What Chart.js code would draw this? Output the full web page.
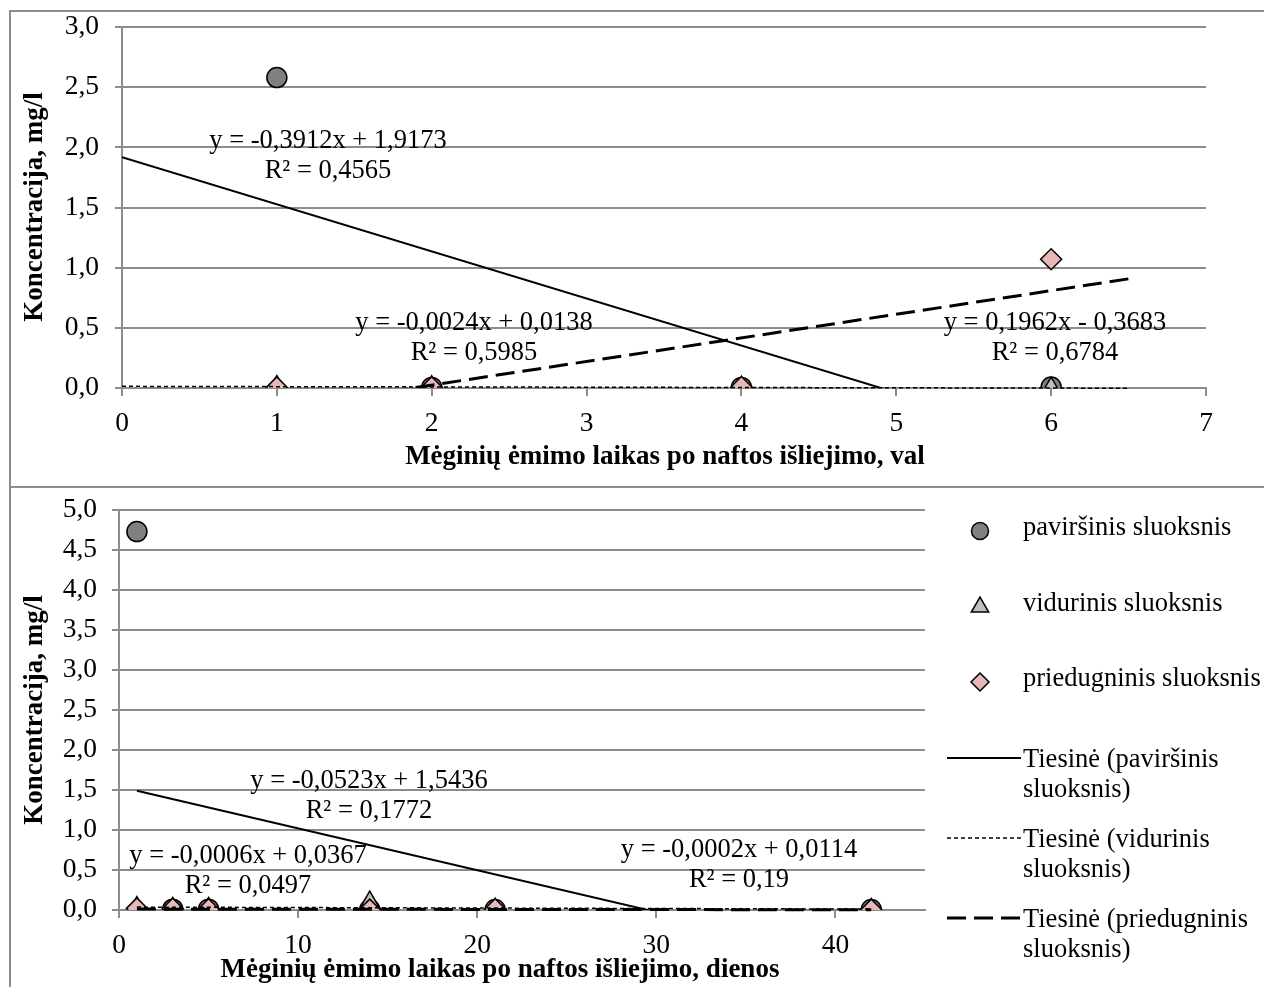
<!DOCTYPE html>
<html><head><meta charset="utf-8">
<script src="https://cdn.jsdelivr.net/npm/chart.js@4.4.1/dist/chart.umd.min.js"></script>
<style>
html,body{margin:0;padding:0;background:#fff;overflow:hidden;width:1264px;height:987px;}
#wrap{position:relative;width:1264px;height:987px;overflow:hidden;}
.frame{position:absolute;border:2px solid #8c8c8c;box-sizing:border-box;}
canvas{position:absolute;left:0;}
</style></head><body>
<div id="wrap">
<div class="frame" style="left:9px;top:10px;width:1270px;height:478px;"></div>
<div class="frame" style="left:9px;top:486px;width:1270px;height:520px;"></div>
<canvas id="c1" width="1264" height="487" style="top:0"></canvas>
<canvas id="c2" width="1264" height="500" style="top:487px"></canvas>
</div>
<script>
// ---------- DATA ----------
const seriesNames = ['paviršinis sluoksnis', 'vidurinis sluoksnis', 'priedugninis sluoksnis'];
const trendNames = [['Tiesinė (paviršinis', 'sluoksnis)'], ['Tiesinė (vidurinis', 'sluoksnis)'], ['Tiesinė (priedugninis', 'sluoksnis)']];

// Top chart: hours
const hoursX = [1, 2, 4, 6];
const hoursSurface = [2.58, 0.005, 0.005, 0.008];
const hoursMiddle = [0.012, 0.01, 0.006, 0.0];
const hoursBottom = [0.005, 0.006, 0.008, 1.07];
const hoursTrendSurface = [[0, 1.9173], [6.5, -0.6255]];
const hoursTrendMiddle = [[0, 0.0138], [6.5, -0.0018]];
const hoursTrendBottom = [[0, -0.3683], [6.5, 0.907]];
const hoursEquations = [['y = -0,3912x + 1,9173', 'R² = 0,4565'], ['y = -0,0024x + 0,0138', 'R² = 0,5985'], ['y = 0,1962x - 0,3683', 'R² = 0,6784']];
const hoursXMax = 7;
const hoursYMax = 3.0;
const hoursTitleX = 'Mėginių ėmimo laikas po naftos išliejimo, val';

// Bottom chart: days
const daysX = [1, 3, 5, 14, 21, 42];
const daysSurface = [4.73, 0.01, 0.01, 0.005, 0.005, 0.005];
const daysMiddle = [0.03, 0.02, 0.02, 0.1, 0.01, 0.005];
const daysBottom = [0.02, 0.015, 0.01, 0.005, 0.01, 0.003];
const daysTrendSurface = [[1, 1.4913], [42, -0.6530]];
const daysTrendMiddle = [[1, 0.0361], [42, 0.0115]];
const daysTrendBottom = [[1, 0.0112], [42, 0.0030]];
const daysEquations = [['y = -0,0523x + 1,5436', 'R² = 0,1772'], ['y = -0,0006x + 0,0367', 'R² = 0,0497'], ['y = -0,0002x + 0,0114', 'R² = 0,19']];
const daysXMax = 45;
const daysYMax = 5.0;
const daysTitleX = 'Mėginių ėmimo laikas po naftos išliejimo, dienos';

const titleY = 'Koncentracija, mg/l';

// ---------- STYLE ----------
const FONT = '"Liberation Serif", "Times New Roman", serif';
const GRID = '#8c8c8c';
const FS = 26.5;
const TICK_FS = 27.5;
const markerStyles = [
  {pointStyle: 'circle', radius: 10, fill: '#808080'},
  {pointStyle: 'triangle', radius: 11, fill: '#bfbfbf'},
  {pointStyle: 'rectRot', radius: 10.5, fill: '#e6b9b8'}
];
const trendStyles = [
  {width: 2, dash: []},
  {width: 1.5, dash: [4, 3]},
  {width: 3, dash: [19, 8]}
];
const trendClips = [0, {left: 0, top: 0, right: 0, bottom: 3}, {left: 0, top: 0, right: 0, bottom: 3}];

function pts(xs, ys) { return xs.map((x, i) => ({x: x, y: ys[i]})); }
function seg(p) { return p.map(a => ({x: a[0], y: a[1]})); }

function datasets(xs, s, m, b, ts, tm, tb, clips) {
  const ser = [s, m, b].map((ys, i) => ({
    label: seriesNames[i], data: pts(xs, ys), showLine: false,
    pointStyle: markerStyles[i].pointStyle, pointRadius: markerStyles[i].radius,
    pointHoverRadius: markerStyles[i].radius,
    backgroundColor: markerStyles[i].fill, borderColor: '#000', pointBorderWidth: 1.5,
    order: 3 - i
  }));
  const tr = [ts, tm, tb].map((p, i) => ({
    label: trendNames[i].join(' '), data: seg(p), showLine: true, pointRadius: 0, pointHoverRadius: 0,
    borderColor: '#000', borderWidth: trendStyles[i].width, borderDash: trendStyles[i].dash,
    fill: false, order: 0, clip: clips[i]
  }));
  return ser.concat(tr);
}

function yScale(max, width, pad) {
  return {
    type: 'linear', min: 0, max: max,
    ticks: {stepSize: 0.5, color: '#000', padding: pad, font: {family: FONT, size: TICK_FS, lineHeight: 0.5},
      callback: v => v.toFixed(1).replace('.', ',')},
    grid: {color: GRID, lineWidth: 2, tickLength: 7, drawTicks: true},
    border: {display: true, color: GRID, width: 2},
    afterFit: s => { s.width = width; }
  };
}
function xScale(max, step, height, pad) {
  return {
    type: 'linear', min: 0, max: max,
    ticks: {stepSize: step, includeBounds: false, autoSkip: false, maxRotation: 0, color: '#000',
      padding: pad, font: {family: FONT, size: TICK_FS}, callback: v => String(v)},
    grid: {drawOnChartArea: false, color: GRID, lineWidth: 2, tickLength: 8, drawTicks: true},
    border: {display: true, color: GRID, width: 2},
    afterFit: s => { s.height = height; }
  };
}

function textPlugin(id, items, legend) {
  return {
    id: id,
    afterDraw(chart) {
      const ctx = chart.ctx;
      ctx.save();
      ctx.fillStyle = '#000';
      items.forEach(t => {
        ctx.font = (t.bold ? 'bold ' : '') + t.size + 'px ' + FONT;
        ctx.textAlign = t.align || 'center';
        ctx.textBaseline = 'alphabetic';
        if (t.rot) {
          ctx.save(); ctx.translate(t.x, t.y); ctx.rotate(-Math.PI / 2);
          ctx.fillText(t.text, 0, 0); ctx.restore();
        } else ctx.fillText(t.text, t.x, t.y);
      });
      if (legend) {
        const L = legend;
        markerStyles.forEach((m, i) => {
          const y = L.markerY[i];
          ctx.fillStyle = m.fill; ctx.strokeStyle = '#000'; ctx.lineWidth = 1.5;
          Chart.helpers.drawPoint(ctx, {pointStyle: m.pointStyle, radius: L.markerR[i], rotation: 0, borderWidth: 1.5}, L.markerX, y);
          ctx.fillStyle = '#000';
          ctx.font = FS + 'px ' + FONT; ctx.textAlign = 'left'; ctx.textBaseline = 'alphabetic';
          ctx.fillText(seriesNames[i], L.textX, y + L.textDy);
        });
        trendStyles.forEach((s, i) => {
          const y = L.lineY[i];
          ctx.strokeStyle = '#000'; ctx.lineWidth = s.width; ctx.setLineDash(s.dash);
          ctx.beginPath(); ctx.moveTo(L.lineX0, y); ctx.lineTo(L.lineX1, y); ctx.stroke();
          ctx.setLineDash([]);
          ctx.fillStyle = '#000';
          ctx.font = FS + 'px ' + FONT; ctx.textAlign = 'left'; ctx.textBaseline = 'alphabetic';
          ctx.fillText(trendNames[i][0], L.textX, y + L.lineTextDy);
          ctx.fillText(trendNames[i][1], L.textX, y + L.lineTextDy + 30);
        });
      }
      ctx.restore();
    }
  };
}

const common = {
  responsive: false, animation: false, devicePixelRatio: 1,
  plugins: {legend: {display: false}, tooltip: {enabled: false}}
};

// ---------- TOP CHART ----------
const topItems = [
  {text: hoursTitleX, x: 665, y: 464, size: 27, bold: true},
  {text: titleY, x: 42, y: 207, size: 27, bold: true, rot: true},
  {text: hoursEquations[0][0], x: 328, y: 148, size: FS},
  {text: hoursEquations[0][1], x: 328, y: 178, size: FS},
  {text: hoursEquations[1][0], x: 474, y: 330, size: FS},
  {text: hoursEquations[1][1], x: 474, y: 360, size: FS},
  {text: hoursEquations[2][0], x: 1055, y: 330, size: FS},
  {text: hoursEquations[2][1], x: 1055, y: 360, size: FS}
];
new Chart(document.getElementById('c1'), {
  type: 'scatter',
  data: {datasets: datasets(hoursX, hoursSurface, hoursMiddle, hoursBottom, hoursTrendSurface, hoursTrendMiddle, hoursTrendBottom, [0, {left: 0, top: 0, right: 0, bottom: 3}, 0])},
  options: Object.assign({}, common, {
    layout: {padding: {left: 0, right: 58, top: 27, bottom: 39}},
    scales: {x: xScale(hoursXMax, 1, 60, 11), y: yScale(hoursYMax, 122, 16)}
  }),
  plugins: [textPlugin('t1', topItems, null)]
});

// ---------- BOTTOM CHART ----------
const off = 487;
const botItems = [
  {text: daysTitleX, x: 500, y: 977 - off, size: 27, bold: true},
  {text: titleY, x: 42, y: 710 - off, size: 27, bold: true, rot: true},
  {text: daysEquations[0][0], x: 369, y: 788 - off, size: FS},
  {text: daysEquations[0][1], x: 369, y: 818 - off, size: FS},
  {text: daysEquations[1][0], x: 248, y: 863 - off, size: FS},
  {text: daysEquations[1][1], x: 248, y: 893 - off, size: FS},
  {text: daysEquations[2][0], x: 739, y: 857 - off, size: FS},
  {text: daysEquations[2][1], x: 739, y: 887 - off, size: FS}
];
const legendLayout = {
  markerX: 980, markerY: [531 - off, 607 - off, 682 - off], markerR: [8.5, 10, 9],
  textX: 1023, textDy: 4,
  lineX0: 947, lineX1: 1021, lineY: [758 - off, 838 - off, 918 - off], lineTextDy: 9
};
new Chart(document.getElementById('c2'), {
  type: 'scatter',
  data: {datasets: datasets(daysX, daysSurface, daysMiddle, daysBottom, daysTrendSurface, daysTrendMiddle, daysTrendBottom, trendClips)},
  options: Object.assign({}, common, {
    layout: {padding: {left: 0, right: 339, top: 23, bottom: 17}},
    scales: {x: xScale(daysXMax, 10, 60, 11), y: yScale(daysYMax, 119, 15)}
  }),
  plugins: [textPlugin('t2', botItems, legendLayout)]
});
</script>
</body></html>
